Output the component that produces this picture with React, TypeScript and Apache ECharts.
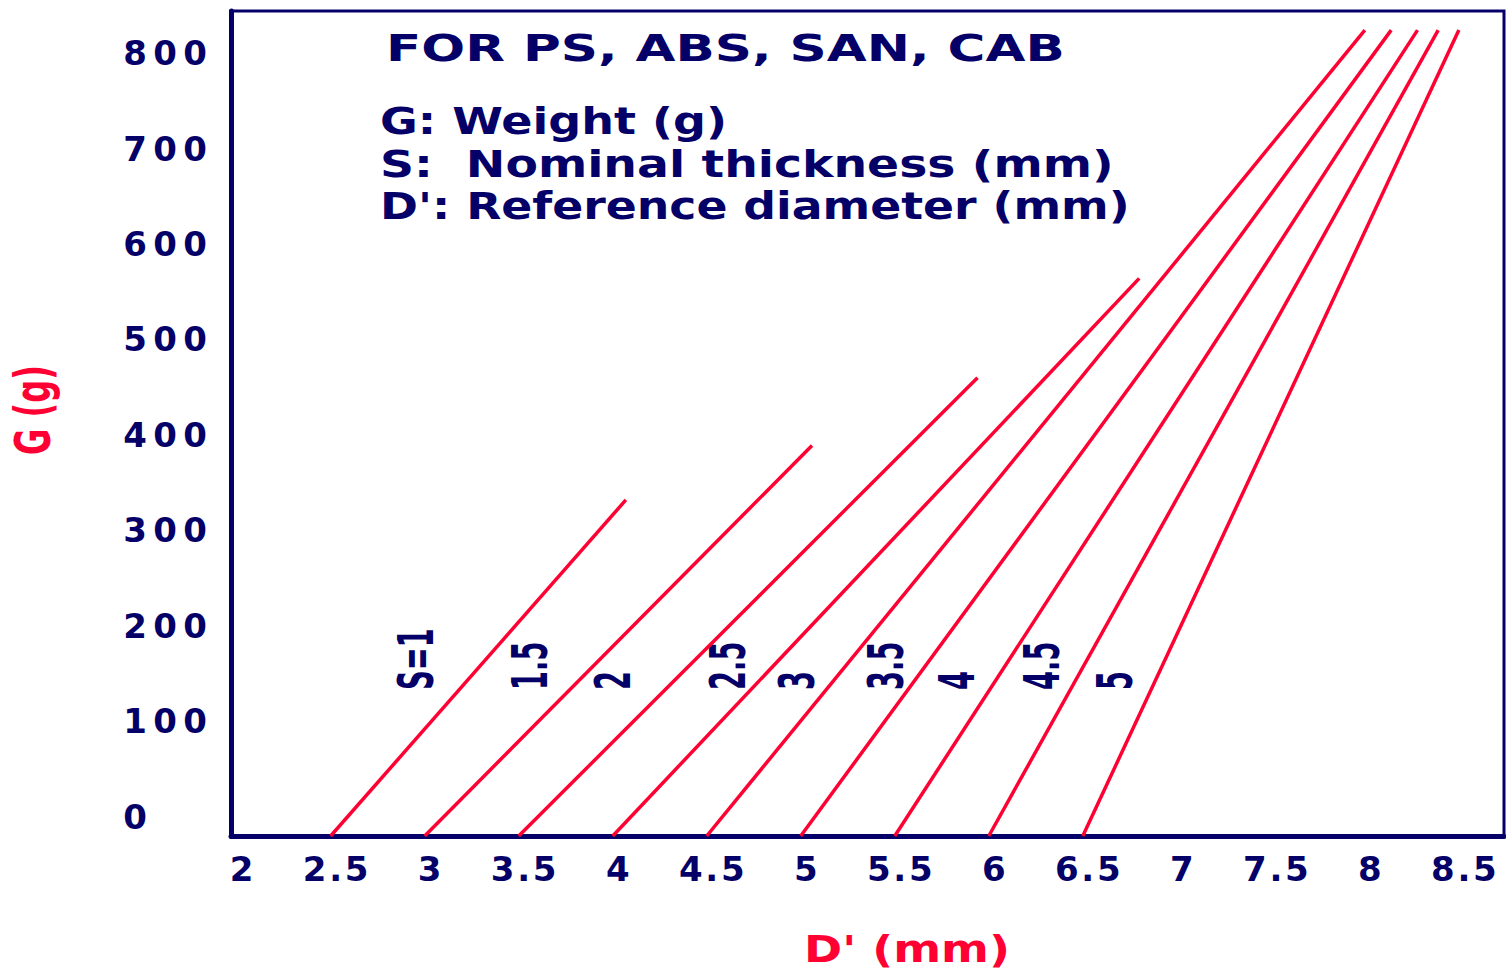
import React, { useEffect, useRef } from 'react';
import * as echarts from 'echarts';

const NAVY = '#050068';
const RED = '#ff0033';
const FONT = '"DejaVu Sans", Verdana, sans-serif';
const WEIGHT = 'bold';

// Axis tick labels
const xTicks = [2, 2.5, 3, 3.5, 4, 4.5, 5, 5.5, 6, 6.5, 7, 7.5, 8, 8.5];
const yTicks = [0, 100, 200, 300, 400, 500, 600, 700, 800];

// Nominal thickness curves (S), each a straight segment from start to end
const thicknessNames = ['S=1', '1.5', '2', '2.5', '3', '3.5', '4', '4.5', '5'];
const startD = [2.5, 3.0, 3.5, 4.0, 4.5, 5.0, 5.5, 6.0, 6.5];
const startG = [-20, -20, -20, -20, -20, -20, -20, -20, -20];
const endD = [4.07, 5.06, 5.94, 6.8, 8.0, 8.14, 8.28, 8.39, 8.5];
const endG = [332, 389, 460, 564, 824, 824, 824, 824, 824];

// Where each S label sits (bottom of the rotated text)
const labelD = [2.95, 3.56, 4.0, 4.61, 4.98, 5.45, 5.83, 6.28, 6.67];
const labelG = [133, 133, 133, 133, 133, 133, 133, 133, 133];

const titleText = 'FOR PS, ABS, SAN, CAB';
const legendLines = ['G: Weight (g)', 'S:  Nominal thickness (mm)', "D': Reference diameter (mm)"];
const xTitle = "D' (mm)";
const yTitle = 'G (g)';

function measure(text: string, size: number): number {
  const c = document.createElement('canvas').getContext('2d')!;
  c.font = `${WEIGHT} ${size}px ${FONT}`;
  return c.measureText(text).width;
}

function stretchedText(text: string, x: number, cy: number, size: number, targetW: number, color: string) {
  const w = measure(text, size);
  return {
    type: 'text',
    x,
    y: cy,
    scaleX: targetW / w,
    silent: true,
    style: {
      text,
      fill: color,
      fontSize: size,
      fontFamily: FONT,
      fontWeight: WEIGHT,
      align: 'left',
      verticalAlign: 'middle',
      textAlign: 'left',
      textVerticalAlign: 'middle',
    },
  };
}

export default function App() {
  const ref = useRef<HTMLDivElement>(null);
  useEffect(() => {
    const chart = echarts.init(ref.current!, null, { renderer: 'svg' });
    const rich = {
      d: { width: 30, align: 'center', fontSize: 34, fontFamily: FONT, fontWeight: WEIGHT, color: NAVY, lineHeight: 30 },
      p: { width: 12, align: 'center', fontSize: 34, fontFamily: FONT, fontWeight: WEIGHT, color: NAVY, lineHeight: 30 },
    };
    const fmt = (v: number) =>
      String(v)
        .split('')
        .map((c) => (c === '.' ? '{p|.}' : `{d|${c}}`))
        .join('');

    const series = thicknessNames.map((name, i) => ({
      type: 'line',
      name,
      data: [
        [startD[i], startG[i]],
        [endD[i], endG[i]],
      ],
      symbol: 'none',
      silent: true,
      lineStyle: { color: RED, width: 3.5 },
      z: 2,
    }));

    chart.setOption({
      animation: false,
      grid: {
        left: 231,
        right: 2,
        top: 11,
        bottom: 135,
        show: true,
        borderColor: NAVY,
        borderWidth: 3,
        backgroundColor: 'transparent',
      },
      xAxis: {
        type: 'value',
        min: 1.97,
        max: 8.74,
        axisLine: { show: true, onZero: false, lineStyle: { color: NAVY, width: 5 } },
        axisTick: { show: false },
        splitLine: { show: false },
        axisLabel: { customValues: xTicks, formatter: fmt, rich, margin: 18, padding: [0, 0, 0, 10] },
      },
      yAxis: {
        type: 'value',
        min: -20,
        max: 844,
        axisLine: { show: true, onZero: false, lineStyle: { color: NAVY, width: 5 } },
        axisTick: { show: false },
        splitLine: { show: false },
        axisLabel: { customValues: yTicks, formatter: fmt, rich, align: 'left', margin: 111 },
      },
      series,
    });

    const px = (d: number, g: number) => chart.convertToPixel({ gridIndex: 0 }, [d, g]) as number[];

    const graphics: any[] = [];
    graphics.push(stretchedText(titleText, 386, 48, 38, 679, NAVY));
    const legendX = [380, 380, 380];
    const legendCy = [121.5, 164, 206.5];
    const legendW = [347, 734, 750];
    legendLines.forEach((t, i) => graphics.push(stretchedText(t, legendX[i], legendCy[i], 37, legendW[i], NAVY)));
    graphics.push(stretchedText(xTitle, 804, 949, 37, 206, RED));

    // Y axis title, rotated
    graphics.push({
      type: 'text',
      x: 33,
      y: 410,
      rotation: Math.PI / 2,
      scaleX: 90 / measure(yTitle, 26),
      scaleY: 1.9,
      silent: true,
      style: {
        text: yTitle,
        fill: RED,
        fontSize: 26,
        fontFamily: FONT,
        fontWeight: WEIGHT,
        align: 'center',
        verticalAlign: 'middle',
        textAlign: 'center',
        textVerticalAlign: 'middle',
      },
    });

    thicknessNames.forEach((name, i) => {
      const [x, y] = px(labelD[i], labelG[i]);
      graphics.push({
        type: 'text',
        x,
        y,
        rotation: Math.PI / 2,
        scaleX: 1.05,
        scaleY: 1.9,
        silent: true,
        style: {
          text: name,
          fill: NAVY,
          fontSize: 26,
          fontFamily: FONT,
          fontWeight: WEIGHT,
          align: 'left',
          verticalAlign: 'middle',
          textAlign: 'left',
          textVerticalAlign: 'middle',
        },
      });
    });

    chart.setOption({ graphic: { elements: graphics } });

    return () => chart.dispose();
  }, []);

  return (
    <div
      ref={ref}
      style={{ position: 'absolute', left: 0, top: 0, width: 1506, height: 971, background: '#ffffff' }}
    />
  );
}
